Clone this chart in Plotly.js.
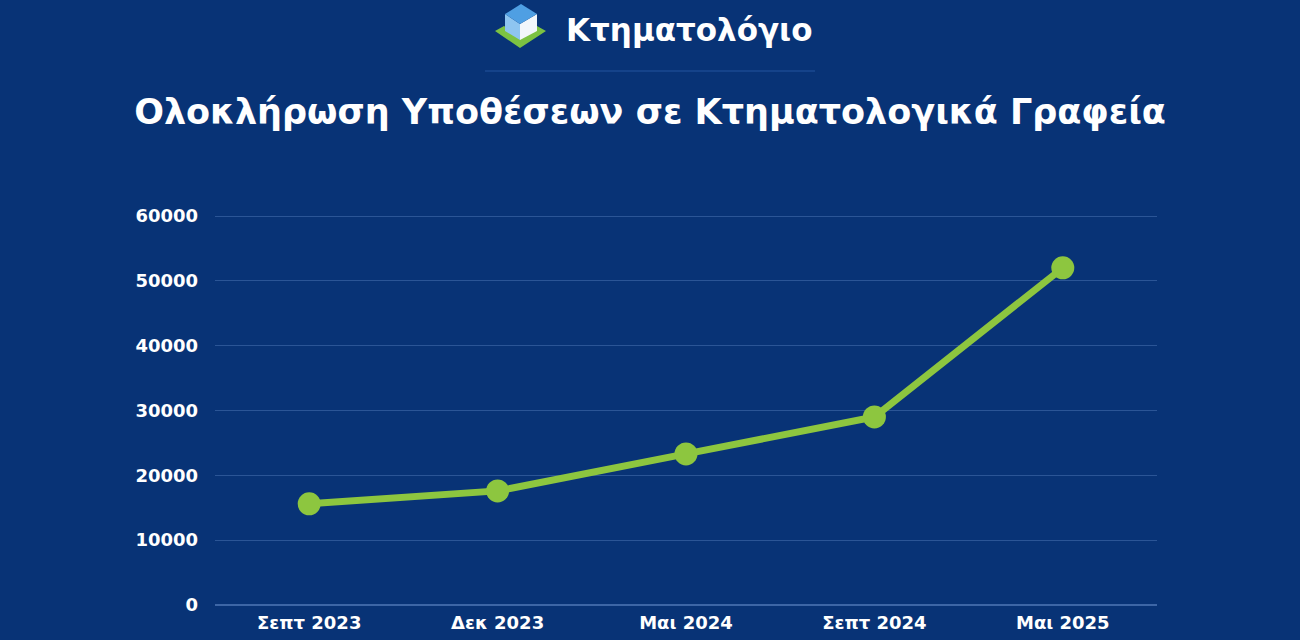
<!DOCTYPE html>
<html>
<head>
<meta charset="utf-8">
<script src="https://cdn.plot.ly/plotly-3.0.1.min.js"></script>
<style>
  html, body { margin: 0; padding: 0; background: #083376; }
  #chart { width: 1300px; height: 640px; }
</style>
</head>
<body>
<div id="chart"></div>
<script>
// ---- Data ----
const categories = ["Σεπτ 2023", "Δεκ 2023", "Μαι 2024", "Σεπτ 2024", "Μαι 2025"];
const completedCases = [15600, 17600, 23300, 29000, 52000];
const yTickValues = [0, 10000, 20000, 30000, 40000, 50000, 60000];
const yTickLabels = ["0", "10000", "20000", "30000", "40000", "50000", "60000"];
const chartTitle = "Ολοκλήρωση Υποθέσεων σε Κτηματολογικά Γραφεία";
const brandName = "Κτηματολόγιο";

// ---- Layout helpers (pixel -> paper) ----
const W = 1300, H = 640;
const M = { l: 215, r: 143, t: 211, b: 35 };
const PW = W - M.l - M.r, PH = H - M.t - M.b;
const Y_TOP_PX = 216;              // pixel row of the 60000 gridline
const Y_ZERO_PX = H - M.b;         // pixel row of 0
const yMax = 60000 * PH / (Y_ZERO_PX - Y_TOP_PX);
const px = x => (x - M.l) / PW;
const py = y => (H - M.b - y) / PH;
const path = pts => "M" + pts.map(p => px(p[0]).toFixed(5) + "," + py(p[1]).toFixed(5)).join(" L") + " Z";

const FONT = "DejaVu Sans, Open Sans, sans-serif";

const trace = {
  type: "scatter",
  mode: "lines+markers",
  x: categories,
  y: completedCases,
  line: { color: "#8dc63f", width: 7 },
  marker: { color: "#8dc63f", size: 23 },
  hoverinfo: "x+y"
};

const shapes = [
  // line under logo
  { type: "line", xref: "paper", yref: "paper", x0: px(485), x1: px(815), y0: py(71), y1: py(71),
    line: { color: "#1a4a92", width: 1.5 } },
  // logo: green chevron
  { type: "path", xref: "paper", yref: "paper",
    path: path([[495, 31], [504, 26], [520, 36], [537, 26], [546, 31], [520, 48]]),
    fillcolor: "#7cc242", line: { width: 0 } },
  // logo: cube left face
  { type: "path", xref: "paper", yref: "paper",
    path: path([[505, 14], [520, 24], [520, 40], [505, 31]]),
    fillcolor: "#8ec5f0", line: { width: 0 } },
  // logo: cube right face
  { type: "path", xref: "paper", yref: "paper",
    path: path([[520, 24], [537, 14], [537, 31], [520, 40]]),
    fillcolor: "#f2f6fb", line: { width: 0 } },
  // logo: cube top face
  { type: "path", xref: "paper", yref: "paper",
    path: path([[505, 14], [521, 4], [537, 14], [520, 24]]),
    fillcolor: "#4f9fe3", line: { width: 0 } }
];

const layout = {
  width: W, height: H,
  margin: M,
  paper_bgcolor: "#083376",
  plot_bgcolor: "#083376",
  showlegend: false,
  font: { family: FONT, color: "#ffffff" },
  title: {
    text: chartTitle,
    font: { family: FONT, size: 35, color: "#ffffff", weight: "bold" },
    x: 0.5, xref: "container", xanchor: "center",
    y: 1 - 112 / H, yref: "container", yanchor: "middle"
  },
  xaxis: {
    type: "category",
    range: [-0.5, categories.length - 0.5],
    showgrid: false, zeroline: false, showline: false,
    ticks: "",
    tickfont: { family: FONT, size: 18, color: "#ffffff", weight: "bold" },
    ticklabelstandoff: 5,
    fixedrange: true
  },
  yaxis: {
    range: [0, yMax],
    tickvals: yTickValues,
    ticktext: yTickLabels,
    showgrid: true, gridcolor: "#2b5596", gridwidth: 1,
    zeroline: true, zerolinecolor: "#3d66a6", zerolinewidth: 1.5,
    showline: false, ticks: "",
    tickfont: { family: FONT, size: 18, color: "#ffffff", weight: "bold" },
    ticklabelstandoff: 16,
    fixedrange: true
  },
  shapes: shapes,
  annotations: [
    { text: brandName, xref: "paper", yref: "paper", x: px(564), y: py(30),
      xanchor: "left", yanchor: "middle", showarrow: false,
      font: { family: FONT, size: 31, color: "#ffffff", weight: "bold" } }
  ]
};

Plotly.newPlot("chart", [trace], layout, { displayModeBar: false, staticPlot: false });
</script>
</body>
</html>
